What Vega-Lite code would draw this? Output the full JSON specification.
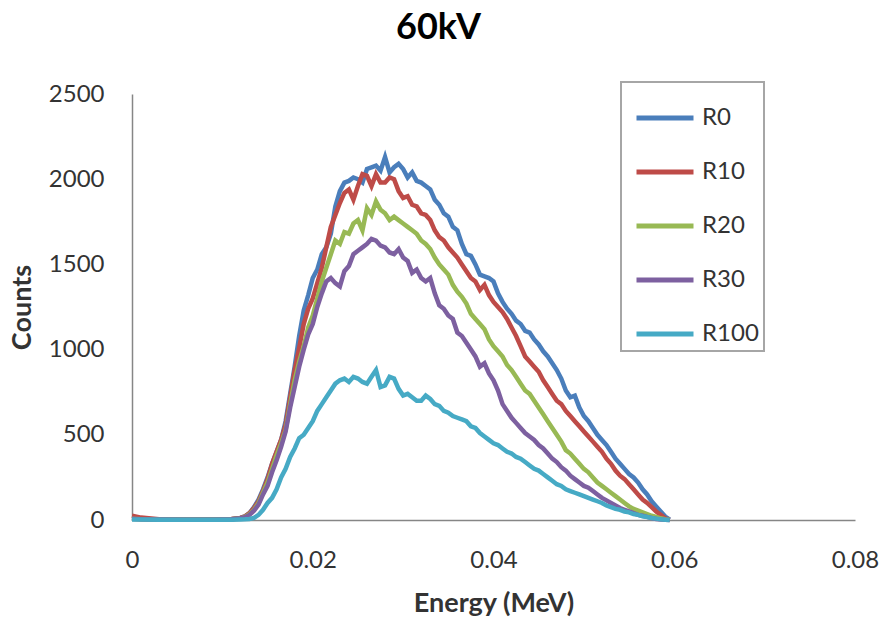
{
  "$schema": "https://vega.github.io/schema/vega-lite/v6.json",
  "width": 723,
  "height": 426,
  "autosize": {"type": "none"},
  "padding": {"left": 132, "top": 94, "right": 33, "bottom": 102},
  "background": "white",
  "title": {"text": "60kV", "font": "Lato", "fontSize": 36, "fontWeight": "bold", "color": "#000000", "anchor": "middle", "frame": "group", "baseline": "alphabetic", "offset": 6, "dx": -55},
  "data": {
    "values": [
      {"E": 0, "R0": 12, "R10": 25, "R20": 8, "R30": 8, "R100": 3},
      {"E": 0.001, "R0": 6, "R10": 14, "R20": 5, "R30": 5, "R100": 3},
      {"E": 0.003, "R0": 3, "R10": 4, "R20": 3, "R30": 3, "R100": 2},
      {"E": 0.006, "R0": 2, "R10": 3, "R20": 2, "R30": 2, "R100": 2},
      {"E": 0.009, "R0": 3, "R10": 3, "R20": 2, "R30": 2, "R100": 2},
      {"E": 0.011, "R0": 5, "R10": 6, "R20": 4, "R30": 4, "R100": 2},
      {"E": 0.012, "R0": 12, "R10": 12, "R20": 10, "R30": 10, "R100": 3},
      {"E": 0.0125, "R0": 22, "R10": 22, "R20": 18, "R30": 16, "R100": 4},
      {"E": 0.013, "R0": 40, "R10": 40, "R20": 35, "R30": 30, "R100": 6},
      {"E": 0.0135, "R0": 75, "R10": 70, "R20": 60, "R30": 55, "R100": 12},
      {"E": 0.014, "R0": 120, "R10": 110, "R20": 100, "R30": 90, "R100": 30},
      {"E": 0.0145, "R0": 180, "R10": 170, "R20": 160, "R30": 150, "R100": 60},
      {"E": 0.015, "R0": 250, "R10": 240, "R20": 220, "R30": 200, "R100": 100},
      {"E": 0.0155, "R0": 330, "R10": 330, "R20": 300, "R30": 280, "R100": 130},
      {"E": 0.016, "R0": 400, "R10": 400, "R20": 380, "R30": 350, "R100": 180},
      {"E": 0.0165, "R0": 470, "R10": 470, "R20": 450, "R30": 430, "R100": 250},
      {"E": 0.017, "R0": 580, "R10": 560, "R20": 530, "R30": 520, "R100": 300},
      {"E": 0.0175, "R0": 740, "R10": 720, "R20": 680, "R30": 660, "R100": 370},
      {"E": 0.018, "R0": 900, "R10": 880, "R20": 820, "R30": 780, "R100": 420},
      {"E": 0.0185, "R0": 1080, "R10": 1010, "R20": 930, "R30": 900, "R100": 480},
      {"E": 0.019, "R0": 1230, "R10": 1150, "R20": 1020, "R30": 1000, "R100": 500},
      {"E": 0.0195, "R0": 1320, "R10": 1240, "R20": 1130, "R30": 1090, "R100": 540},
      {"E": 0.02, "R0": 1420, "R10": 1300, "R20": 1200, "R30": 1150, "R100": 580},
      {"E": 0.0205, "R0": 1470, "R10": 1390, "R20": 1300, "R30": 1250, "R100": 640},
      {"E": 0.021, "R0": 1560, "R10": 1480, "R20": 1400, "R30": 1330, "R100": 680},
      {"E": 0.0215, "R0": 1600, "R10": 1600, "R20": 1480, "R30": 1400, "R100": 720},
      {"E": 0.022, "R0": 1680, "R10": 1720, "R20": 1560, "R30": 1420, "R100": 760},
      {"E": 0.0225, "R0": 1840, "R10": 1790, "R20": 1640, "R30": 1390, "R100": 800},
      {"E": 0.023, "R0": 1930, "R10": 1860, "R20": 1620, "R30": 1370, "R100": 820},
      {"E": 0.0235, "R0": 1980, "R10": 1920, "R20": 1690, "R30": 1460, "R100": 830},
      {"E": 0.024, "R0": 1990, "R10": 1940, "R20": 1680, "R30": 1490, "R100": 810},
      {"E": 0.0245, "R0": 2010, "R10": 1880, "R20": 1740, "R30": 1560, "R100": 840},
      {"E": 0.025, "R0": 2000, "R10": 1960, "R20": 1760, "R30": 1580, "R100": 830},
      {"E": 0.0255, "R0": 1980, "R10": 2030, "R20": 1700, "R30": 1600, "R100": 810},
      {"E": 0.026, "R0": 2060, "R10": 2020, "R20": 1830, "R30": 1620, "R100": 800},
      {"E": 0.0265, "R0": 2070, "R10": 1960, "R20": 1790, "R30": 1650, "R100": 840},
      {"E": 0.027, "R0": 2080, "R10": 2030, "R20": 1870, "R30": 1640, "R100": 880},
      {"E": 0.0275, "R0": 2050, "R10": 1980, "R20": 1820, "R30": 1610, "R100": 780},
      {"E": 0.028, "R0": 2130, "R10": 1980, "R20": 1800, "R30": 1600, "R100": 790},
      {"E": 0.0285, "R0": 2040, "R10": 2010, "R20": 1760, "R30": 1570, "R100": 840},
      {"E": 0.029, "R0": 2070, "R10": 2000, "R20": 1780, "R30": 1560, "R100": 830},
      {"E": 0.0295, "R0": 2090, "R10": 1930, "R20": 1760, "R30": 1590, "R100": 770},
      {"E": 0.03, "R0": 2060, "R10": 1890, "R20": 1740, "R30": 1540, "R100": 730},
      {"E": 0.0305, "R0": 2010, "R10": 1900, "R20": 1720, "R30": 1520, "R100": 740},
      {"E": 0.031, "R0": 2040, "R10": 1850, "R20": 1700, "R30": 1450, "R100": 720},
      {"E": 0.0315, "R0": 1990, "R10": 1840, "R20": 1680, "R30": 1470, "R100": 700},
      {"E": 0.032, "R0": 1980, "R10": 1800, "R20": 1640, "R30": 1420, "R100": 700},
      {"E": 0.0325, "R0": 1960, "R10": 1790, "R20": 1620, "R30": 1400, "R100": 730},
      {"E": 0.033, "R0": 1940, "R10": 1760, "R20": 1590, "R30": 1420, "R100": 710},
      {"E": 0.0335, "R0": 1880, "R10": 1700, "R20": 1540, "R30": 1330, "R100": 680},
      {"E": 0.034, "R0": 1850, "R10": 1660, "R20": 1500, "R30": 1260, "R100": 670},
      {"E": 0.0345, "R0": 1800, "R10": 1640, "R20": 1470, "R30": 1240, "R100": 640},
      {"E": 0.035, "R0": 1780, "R10": 1600, "R20": 1440, "R30": 1200, "R100": 630},
      {"E": 0.0355, "R0": 1720, "R10": 1570, "R20": 1380, "R30": 1180, "R100": 610},
      {"E": 0.036, "R0": 1700, "R10": 1540, "R20": 1340, "R30": 1100, "R100": 600},
      {"E": 0.0365, "R0": 1620, "R10": 1500, "R20": 1310, "R30": 1080, "R100": 590},
      {"E": 0.037, "R0": 1560, "R10": 1460, "R20": 1270, "R30": 1040, "R100": 580},
      {"E": 0.0375, "R0": 1550, "R10": 1420, "R20": 1210, "R30": 1000, "R100": 550},
      {"E": 0.038, "R0": 1500, "R10": 1400, "R20": 1180, "R30": 960, "R100": 540},
      {"E": 0.0385, "R0": 1440, "R10": 1350, "R20": 1150, "R30": 900, "R100": 510},
      {"E": 0.039, "R0": 1430, "R10": 1380, "R20": 1120, "R30": 920, "R100": 490},
      {"E": 0.0395, "R0": 1420, "R10": 1320, "R20": 1060, "R30": 860, "R100": 470},
      {"E": 0.04, "R0": 1400, "R10": 1280, "R20": 1020, "R30": 820, "R100": 450},
      {"E": 0.0405, "R0": 1330, "R10": 1250, "R20": 990, "R30": 760, "R100": 440},
      {"E": 0.041, "R0": 1280, "R10": 1220, "R20": 960, "R30": 680, "R100": 420},
      {"E": 0.0415, "R0": 1240, "R10": 1180, "R20": 910, "R30": 640, "R100": 400},
      {"E": 0.042, "R0": 1210, "R10": 1130, "R20": 880, "R30": 600, "R100": 390},
      {"E": 0.0425, "R0": 1170, "R10": 1080, "R20": 840, "R30": 570, "R100": 370},
      {"E": 0.043, "R0": 1150, "R10": 1020, "R20": 800, "R30": 540, "R100": 360},
      {"E": 0.0435, "R0": 1110, "R10": 960, "R20": 760, "R30": 510, "R100": 340},
      {"E": 0.044, "R0": 1100, "R10": 930, "R20": 740, "R30": 490, "R100": 320},
      {"E": 0.0445, "R0": 1060, "R10": 900, "R20": 700, "R30": 470, "R100": 300},
      {"E": 0.045, "R0": 1030, "R10": 870, "R20": 660, "R30": 440, "R100": 290},
      {"E": 0.0455, "R0": 990, "R10": 820, "R20": 620, "R30": 420, "R100": 270},
      {"E": 0.046, "R0": 960, "R10": 780, "R20": 580, "R30": 390, "R100": 250},
      {"E": 0.0465, "R0": 920, "R10": 740, "R20": 540, "R30": 360, "R100": 230},
      {"E": 0.047, "R0": 880, "R10": 700, "R20": 500, "R30": 340, "R100": 210},
      {"E": 0.0475, "R0": 830, "R10": 680, "R20": 460, "R30": 310, "R100": 200},
      {"E": 0.048, "R0": 760, "R10": 640, "R20": 410, "R30": 290, "R100": 180},
      {"E": 0.0485, "R0": 720, "R10": 610, "R20": 390, "R30": 260, "R100": 170},
      {"E": 0.049, "R0": 730, "R10": 580, "R20": 360, "R30": 240, "R100": 160},
      {"E": 0.0495, "R0": 660, "R10": 550, "R20": 330, "R30": 220, "R100": 150},
      {"E": 0.05, "R0": 610, "R10": 520, "R20": 300, "R30": 200, "R100": 140},
      {"E": 0.0505, "R0": 580, "R10": 490, "R20": 280, "R30": 190, "R100": 130},
      {"E": 0.051, "R0": 540, "R10": 460, "R20": 250, "R30": 170, "R100": 120},
      {"E": 0.0515, "R0": 500, "R10": 430, "R20": 220, "R30": 150, "R100": 110},
      {"E": 0.052, "R0": 470, "R10": 400, "R20": 200, "R30": 130, "R100": 100},
      {"E": 0.0525, "R0": 440, "R10": 360, "R20": 180, "R30": 115, "R100": 85},
      {"E": 0.053, "R0": 400, "R10": 330, "R20": 160, "R30": 100, "R100": 75},
      {"E": 0.0535, "R0": 360, "R10": 290, "R20": 140, "R30": 85, "R100": 65},
      {"E": 0.054, "R0": 330, "R10": 260, "R20": 120, "R30": 70, "R100": 60},
      {"E": 0.0545, "R0": 300, "R10": 240, "R20": 100, "R30": 60, "R100": 50},
      {"E": 0.055, "R0": 270, "R10": 210, "R20": 80, "R30": 50, "R100": 45},
      {"E": 0.0555, "R0": 250, "R10": 180, "R20": 65, "R30": 40, "R100": 35},
      {"E": 0.056, "R0": 220, "R10": 150, "R20": 55, "R30": 30, "R100": 30},
      {"E": 0.0565, "R0": 180, "R10": 120, "R20": 45, "R30": 25, "R100": 22},
      {"E": 0.057, "R0": 150, "R10": 100, "R20": 35, "R30": 18, "R100": 18},
      {"E": 0.0575, "R0": 110, "R10": 75, "R20": 25, "R30": 12, "R100": 12},
      {"E": 0.058, "R0": 80, "R10": 50, "R20": 18, "R30": 6, "R100": 8},
      {"E": 0.0585, "R0": 50, "R10": 30, "R20": 10, "R30": 3, "R100": 4},
      {"E": 0.059, "R0": 20, "R10": 10, "R20": 5, "R30": 1, "R100": 2},
      {"E": 0.0595, "R0": 2, "R10": 1, "R20": 1, "R30": 0, "R100": 0}
    ]
  },
  "transform": [{"fold": ["R0", "R10", "R20", "R30", "R100"], "as": ["Series", "Counts"]}],
  "mark": {"type": "line", "strokeWidth": 4.5, "interpolate": "linear"},
  "encoding": {
    "x": {
      "field": "E", "type": "quantitative",
      "scale": {"domain": [0, 0.08], "nice": false},
      "axis": {"values": [0, 0.02, 0.04, 0.06, 0.08], "format": ".2~f", "title": "Energy (MeV)", "labelPadding": 28, "labelFlush": false, "titlePadding": 18}
    },
    "y": {
      "field": "Counts", "type": "quantitative",
      "scale": {"domain": [0, 2500], "nice": false},
      "axis": {"values": [0, 500, 1000, 1500, 2000, 2500], "format": "d", "title": "Counts", "labelPadding": 28, "labelFlush": false, "titlePadding": 12}
    },
    "color": {
      "field": "Series", "type": "nominal",
      "sort": ["R0", "R10", "R20", "R30", "R100"],
      "scale": {"domain": ["R0", "R10", "R20", "R30", "R100"], "range": ["#4a7ebb", "#be4b48", "#98b954", "#7d60a0", "#46aac5"]},
      "legend": {"title": null, "orient": "none", "legendX": 489, "legendY": -12, "symbolType": "stroke", "symbolSize": 3249, "symbolStrokeWidth": 5, "symbolOffset": 8, "labelFont": "Lato", "labelFontSize": 24, "labelColor": "#333333", "rowPadding": 11, "padding": 5, "strokeColor": "#a6a6a6", "labelOffset": 6}
    }
  },
  "config": {
    "view": {"stroke": null},
    "legend": {"strokeWidth": 2},
    "axis": {
      "grid": false, "ticks": false,
      "domainColor": "#868686", "domainWidth": 1.5,
      "labelFont": "Lato", "labelFontSize": 24, "labelColor": "#333333",
      "titleFont": "Lato", "titleFontSize": 27, "titleFontWeight": "bold", "titleColor": "#333333"
    }
  }
}
